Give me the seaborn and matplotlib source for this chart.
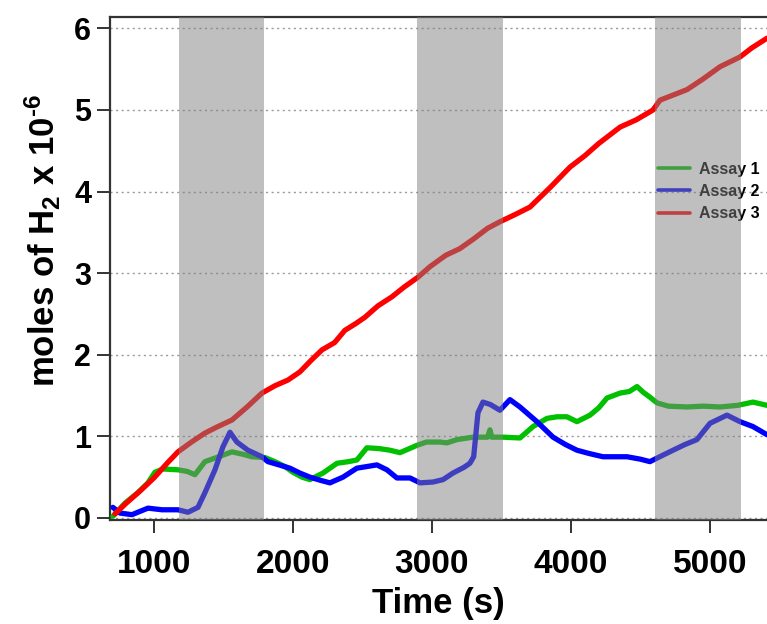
import numpy as np
import pandas as pd
import matplotlib
matplotlib.use("Agg")
import matplotlib.pyplot as plt
import seaborn as sns

# Assay 1 (green)
t_assay1 = [705, 791, 885, 957, 1007, 1065, 1173, 1240, 1295, 1367, 1450, 1561, 1640, 1705, 1799,
            1870, 1942, 2000, 2065, 2122, 2216, 2317, 2400, 2460, 2532, 2620, 2698, 2770, 2892,
            2960, 3058, 3108, 3180, 3295, 3400, 3417, 3430, 3511, 3633, 3727, 3827, 3900, 3971,
            4043, 4137, 4200, 4259, 4353, 4420, 4475, 4520, 4568, 4619, 4700, 4835, 4950, 5072,
            5200, 5309, 5410]
y_assay1 = [0.02, 0.18, 0.31, 0.43, 0.56, 0.60, 0.59, 0.57, 0.53, 0.69, 0.74, 0.81, 0.78, 0.75, 0.74,
            0.69, 0.63, 0.56, 0.50, 0.47, 0.55, 0.67, 0.69, 0.71, 0.86, 0.85, 0.83, 0.80, 0.89,
            0.93, 0.93, 0.92, 0.96, 0.99, 0.99, 1.08, 0.99, 0.99, 0.98, 1.12, 1.22, 1.24, 1.24,
            1.18, 1.26, 1.35, 1.47, 1.53, 1.55, 1.61, 1.54, 1.48, 1.41, 1.37, 1.36, 1.37, 1.36,
            1.38, 1.42, 1.38]

# Assay 2 (blue)
t_assay2 = [705, 755, 842, 885, 957, 1058, 1173, 1245, 1317, 1367, 1439, 1496, 1547, 1597, 1676,
            1777, 1820, 1900, 1978, 2050, 2122, 2200, 2266, 2360, 2460, 2604, 2676, 2748, 2842,
            2914, 3007, 3080, 3151, 3230, 3273, 3300, 3331, 3367, 3420, 3489, 3561, 3633, 3755,
            3871, 3960, 4043, 4130, 4230, 4403, 4500, 4568, 4650, 4734, 4820, 4906, 5000, 5122,
            5216, 5309, 5410]
y_assay2 = [0.13, 0.06, 0.04, 0.07, 0.12, 0.10, 0.10, 0.07, 0.13, 0.31, 0.59, 0.87, 1.05, 0.93, 0.83,
            0.75, 0.69, 0.65, 0.61, 0.55, 0.50, 0.46, 0.43, 0.50, 0.61, 0.65, 0.59, 0.49, 0.49,
            0.43, 0.44, 0.47, 0.55, 0.62, 0.67, 0.75, 1.29, 1.42, 1.39, 1.32, 1.45, 1.36, 1.18,
            0.99, 0.90, 0.83, 0.79, 0.75, 0.75, 0.72, 0.69, 0.76, 0.83, 0.90, 0.96, 1.16, 1.26,
            1.18, 1.12, 1.02]

# Assay 3 (red)
t_assay3 = [720, 800, 900, 1000, 1100, 1173, 1270, 1367, 1460, 1561, 1670, 1777, 1870, 1964, 2050,
            2130, 2209, 2300, 2374, 2450, 2518, 2612, 2712, 2800, 2899, 2986, 3100, 3200, 3300,
            3400, 3489, 3600, 3705, 3850, 3993, 4100, 4200, 4353, 4470, 4590, 4640, 4835, 4950,
            5072, 5216, 5300, 5410]
y_assay3 = [0.05, 0.18, 0.33, 0.49, 0.68, 0.81, 0.93, 1.04, 1.12, 1.20, 1.36, 1.53, 1.62, 1.69, 1.79,
            1.93, 2.06, 2.15, 2.30, 2.38, 2.46, 2.60, 2.71, 2.83, 2.95, 3.08, 3.22, 3.30, 3.42,
            3.55, 3.63, 3.72, 3.81, 4.05, 4.30, 4.44, 4.59, 4.79, 4.88, 5.00, 5.12, 5.25, 5.38,
            5.53, 5.65, 5.76, 5.88]

# Dark periods (light off), in seconds
dark_start = [1180, 2892, 4604]
dark_end = [1791, 3511, 5223]

series_names = ["Assay 1", "Assay 2", "Assay 3"]
series_colors = ["#00c000", "#0000ff", "#ff0000"]
x_ticks = [1000, 2000, 3000, 4000, 5000]
y_ticks = [0, 1, 2, 3, 4, 5, 6]

frames = []
for name, t, y in zip(series_names, [t_assay1, t_assay2, t_assay3],
                      [y_assay1, y_assay2, y_assay3]):
    frames.append(pd.DataFrame({"time": t, "h2": y, "assay": name}))
df = pd.concat(frames, ignore_index=True)

sns.set_theme(style="white")
plt.rcParams["font.family"] = ["Liberation Sans", "DejaVu Sans"]
plt.rcParams["text.color"] = "black"
plt.rcParams["axes.labelcolor"] = "black"
plt.rcParams["mathtext.fontset"] = "custom"
plt.rcParams["mathtext.rm"] = "Liberation Sans:bold"
plt.rcParams["mathtext.bf"] = "Liberation Sans:bold"
plt.rcParams["mathtext.default"] = "bf"

fig = plt.figure(figsize=(7.67, 6.24), dpi=100)
ax = fig.add_axes([0.1434, 0.1667, 0.8566, 0.8061])

sns.lineplot(data=df, x="time", y="h2", hue="assay", palette=series_colors,
             hue_order=series_names, estimator=None, sort=False, linewidth=3.8,
             ax=ax, legend=False, zorder=3)

# shaded dark intervals drawn over the traces
for s, e in zip(dark_start, dark_end):
    ax.axvspan(s, e, color="#808080", alpha=0.5, lw=0, zorder=10)

ax.set_xlim(684, 5410)
ax.set_ylim(-0.025, 6.14)
ax.set_xticks(x_ticks)
ax.set_yticks(y_ticks)
ax.yaxis.grid(True, linestyle=(0, (1.5, 2.5)), color="#999999", linewidth=1)
ax.set_axisbelow(True)

for side in ["left", "top", "bottom"]:
    ax.spines[side].set_color("#333333")
    ax.spines[side].set_linewidth(1.6)
ax.spines["right"].set_visible(False)

ax.tick_params(axis="both", which="major", direction="out", color="#333333",
               width=1.4, labelcolor="black")
ax.tick_params(axis="y", length=9.5, pad=4, labelsize=22)
ax.tick_params(axis="x", length=9, pad=12, labelsize=24)
ax.tick_params(left=True, bottom=True)
for lbl in ax.get_xticklabels() + ax.get_yticklabels():
    lbl.set_fontweight("bold")

ax.set_xlabel("Time (s)", fontsize=25, fontweight="bold", labelpad=5, color="black")
ax.set_ylabel(r"moles of H$_2$ x 10$^{\text{-6}}$", fontsize=25, fontweight="bold",
              color="black")
ax.yaxis.set_label_coords(-0.072, 0.555)

handles = [plt.Line2D([], [], color=c, lw=2.6) for c in series_colors]
leg = ax.legend(handles, series_names, loc="upper left", bbox_to_anchor=(0.834, 0.712),
                frameon=False, handlelength=2.0, handletextpad=0.6, labelspacing=0.45,
                borderpad=0, borderaxespad=0, prop={"weight": "bold", "size": 11.5})
leg.set_zorder(5)
for txt in leg.get_texts():
    txt.set_color("black")

fig.savefig("out.png", dpi=100)
